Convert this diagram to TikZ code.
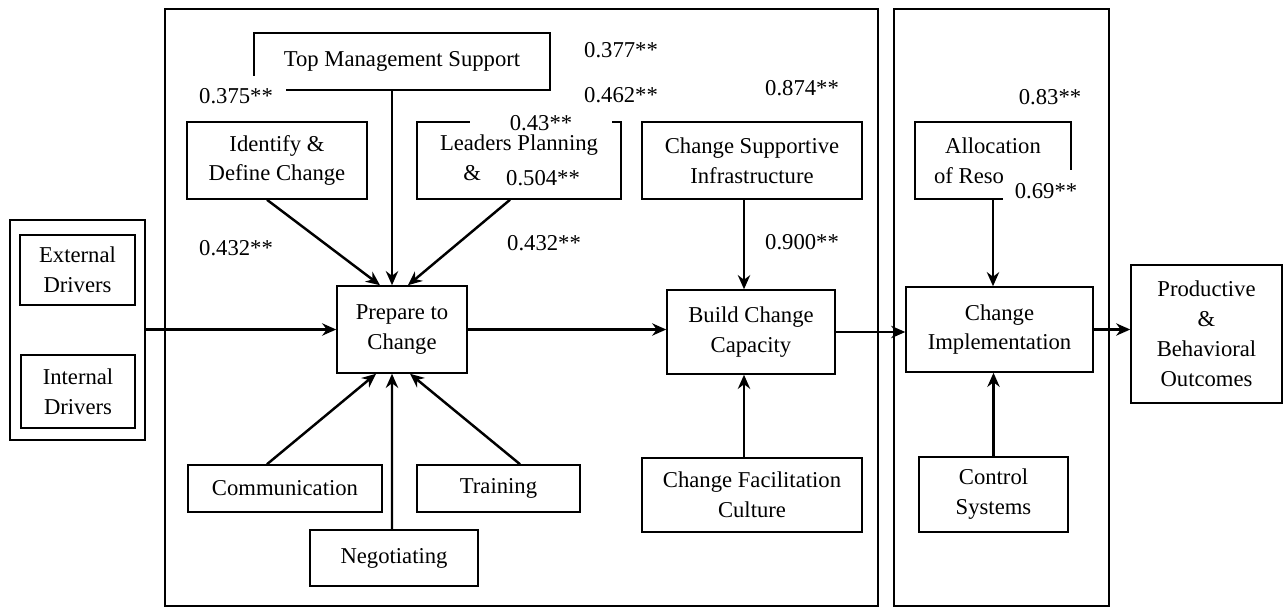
\documentclass[tikz,border=0pt]{standalone}
\usepackage{fontspec}
\setmainfont{Liberation Serif}
\usetikzlibrary{arrows.meta}

\begin{document}
\begin{tikzpicture}[x=0.02cm, y=-0.02cm,
        font=\fontsize{12.9pt}{17pt}\selectfont,
        grp/.style={draw, line width=0.8pt, inner sep=0pt},
        box/.style={draw, line width=0.9pt, align=center, inner sep=0pt},
        arr/.style={-{Stealth[length=8pt, width=7pt]}, line width=1.4pt},
        num/.style={inner sep=0pt},
        cover/.style={fill=white, inner sep=0pt}]
        \useasboundingbox (0, 0) rectangle (1284, 608);
        % group frames
        \node [grp, minimum width=2.7cm, minimum height=4.4cm] (drv) at (77.5, 330) {};
        \node [grp, minimum width=14.26cm, minimum height=11.94cm] (prepgrp) at (521.5, 307.5) {};
        \node [grp, minimum width=4.3cm, minimum height=11.94cm] (implgrp) at (1001.5, 307.5) {};
        % drivers
        \node [box, minimum width=2.3cm, minimum height=1.4cm] (ext) at (77.5, 270) {External\\Drivers};
        \node [box, minimum width=2.28cm, minimum height=1.46cm] (int) at (78, 391.5) {Internal\\Drivers};
        % prepare stage
        \node [box, minimum width=5.92cm, minimum height=1.14cm] (tms) at (402, 61.5) {Top Management Support};
        \node [box, minimum width=3.6cm, minimum height=1.54cm] (idc) at (277, 160.5) {Identify \&\\Define Change};
        \node [box, minimum width=4.08cm, minimum height=1.54cm] (lpv) at (519, 160.5) {Leaders Planning\\\& \phantom{Visioning}};
        \node [box, minimum width=2.6cm, minimum height=1.74cm] (prep) at (402, 329.5) {Prepare to\\Change};
        \node [box, minimum width=3.88cm, minimum height=0.94cm] (comm) at (285, 488.5) {Communication};
        \node [box, minimum width=3.26cm, minimum height=0.94cm] (train) at (498.5, 488.5) {Training};
        \node [box, minimum width=3.36cm, minimum height=1.12cm] (nego) at (394, 558) {Negotiating};
        % capacity stage
        \node [box, minimum width=4.4cm, minimum height=1.54cm] (csi) at (752, 160.5) {Change Supportive\\Infrastructure};
        \node [box, minimum width=3.36cm, minimum height=1.68cm] (bcc) at (751, 332) {Build Change\\Capacity};
        \node [box, minimum width=4.4cm, minimum height=1.48cm] (cfc) at (752, 495) {Change Facilitation\\Culture};
        % implementation stage
        \node [box, minimum width=3.12cm, minimum height=1.54cm] (alloc) at (993, 160.5) {Allocation\\of Reso\phantom{urces}};
        \node [box, minimum width=3.74cm, minimum height=1.7cm] (impl) at (999.5, 329.5) {Change\\Implementation};
        \node [box, minimum width=2.98cm, minimum height=1.5cm] (ctrl) at (993.5, 494.5) {Control\\Systems};
        \node [box, minimum width=3.02cm, minimum height=2.76cm] (prod) at (1206.5, 334) {Productive\\\&\\Behavioral\\Outcomes};
        % arrows
        \draw [arr] (drv.east |- prep.west) -- (prep.west);
        \draw [arr] ([xshift=-0.2cm]idc.south) -- ([xshift=-0.44cm]prep.north);
        \draw [arr] ([xshift=-0.2cm]tms.south) -- ([xshift=-0.2cm]prep.north);
        \draw [arr] ([xshift=-0.18cm]lpv.south) -- ([xshift=0.12cm]prep.north);
        \draw [arr] ([xshift=-0.36cm]comm.north) -- ([xshift=-0.52cm]prep.south);
        \draw [arr] ([xshift=-0.04cm]nego.north) -- ([xshift=-0.2cm]prep.south);
        \draw [arr] ([xshift=0.43cm]train.north) -- ([xshift=0.16cm]prep.south);
        \draw [arr] (prep.east) -- (prep.east -| bcc.west);
        \draw [arr] ([xshift=-0.16cm]csi.south) -- ([xshift=-0.16cm]csi.south |- bcc.north);
        \draw [arr] ([xshift=-0.16cm]cfc.north) -- ([xshift=-0.16cm]cfc.north |- bcc.south);
        \draw [arr] (bcc.east) -- (bcc.east -| impl.west);
        \draw [arr] (alloc.south) -- (alloc.south |- impl.north);
        \draw [arr] (ctrl.north) -- (ctrl.north |- impl.south);
        \draw [arr] (impl.east) -- (impl.east -| prod.west);
        % coefficients
        \node [num, cover, minimum width=2.0cm, minimum height=0.8cm] (c375) at (236, 96) {0.375**};
        \node [num] (c377) at (621, 50) {0.377**};
        \node [num] (c462) at (621, 95) {0.462**};
        \node [num, cover, minimum width=2.84cm, minimum height=0.44cm] (c43) at (541, 123) {0.43**};
        \node [num] (c504) at (543, 178) {0.504**};
        \node [num] (c874) at (802, 88) {0.874**};
        \node [num] (c432a) at (236, 248) {0.432**};
        \node [num] (c432b) at (544, 243) {0.432**};
        \node [num] (c900) at (802, 242) {0.900**};
        \node [num] (c83) at (1050, 97) {0.83**};
        \node [num, cover, minimum width=1.74cm, minimum height=0.84cm] (c69) at (1046, 191) {0.69**};
    \end{tikzpicture}
\end{document}
